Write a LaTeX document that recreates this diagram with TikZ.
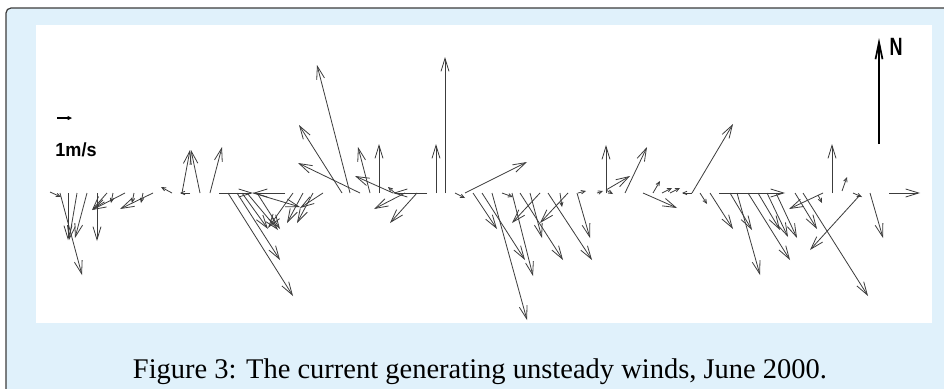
\documentclass[tikz,border=0pt]{standalone}
\usepackage{fontspec}
\setmainfont{Liberation Serif}
\newfontfamily\plotfont{Liberation Sans}
\usetikzlibrary{arrows.meta}
\definecolor{panelblue}{RGB}{224,241,251}
\definecolor{framegray}{RGB}{60,60,60}
\definecolor{stickgray}{RGB}{60,60,60}
\begin{document}
\begin{tikzpicture}[x=1pt,y=-1pt,
  stick/.style={draw=stickgray, line width=0.8pt, -{Straight Barb[length=13pt,width=8pt]}},
  ministick/.style={draw=stickgray, line width=0.8pt, -{Straight Barb[length=4pt,width=3.5pt]}},
  bigarrow/.style={draw=black, line width=1.7pt, -{Straight Barb[length=17pt,width=7pt]}},
  scalearrow/.style={draw=black, line width=1.2pt, -{Straight Barb[length=3pt,width=3pt]}},
  labeltext/.style={inner sep=0pt}]
\useasboundingbox (0,0) rectangle (944,388);
\fill[white] (0,0) rectangle (944,388);
\draw[rounded corners=5pt, fill=panelblue, draw=framegray, line width=1.2pt] (6,8) rectangle (980,430);
\fill[white] (36,25) rectangle (932,323);
% long sticks
\foreach \a/\b/\c/\d in {
 60/193/82/275, 68/193/68/240, 77/193/69/240, 87/193/75/238, 97/193/97/241,
 107/193/92/210, 125/193/92/210, 153/193/120/209,
 182/193/190/150, 200/193/191/150, 210/193/222/147,
 219/193/253/193, 285/193/253/193,
 228/193/293/296, 237/193/280/260, 242/193/268/229, 247/193/278/230, 257/193/280/229,
 253/193/300/207, 293/193/268/228, 303/193/287/223, 313/193/297/223, 323/193/300/208,
 350/193/317/65, 342/193/299/125, 360/193/298/163, 370/193/358/147, 379/193/379/144,
 393/193/355/176, 427/193/393/193, 405/193/374/209, 417/193/390/223,
 436/193/436/144, 445/193/445/57, 465/193/527/162,
 473/193/497/229, 482/193/525/260, 492/193/527/320, 512/193/533/276, 520/193/563/260,
 530/193/542/238, 540/193/512/223, 548/193/592/260, 568/193/540/223, 577/193/590/238,
 606/193/606/145, 606/190/630/176, 625/193/647/147,
 643/193/677/208, 692/193/733/124, 710/193/733/229, 719/193/785/193,
 730/193/752/230, 737/193/760/275, 748/193/790/260, 758/193/780/230, 767/193/788/237,
 776/193/797/238, 795/193/817/229, 803/193/868/296, 823/193/789/209,
 832/193/832/144, 860/195/810/250, 870/193/883/238, 889/193/920/193}
 \draw[stick] (\a,\b) -- (\c,\d);
% short sticks
\foreach \a/\b/\c/\d in {
 50/192/61/197, 113/193/111/203, 134/193/132/203, 143/193/141/203,
 172/193/161/187, 190/193/180/193, 395/193/388/187, 455/193/465/198,
 502/193/513/197, 560/193/562/207, 578/193/586/191, 597/193/603/191, 606/190/613/194,
 653/193/660/181, 662/193/672/188, 670/193/680/188, 692/193/682/193, 700/193/707/204,
 818/195/822/203, 842/191/847/177, 853/193/862/197}
 \draw[ministick] (\a,\b) -- (\c,\d);
% scale
\coordinate (s0) at (57,118);
\coordinate (s1) at (72,118);
\draw[scalearrow] (s0) -- (s1);
\node[labeltext, font=\plotfont\bfseries\fontsize{19}{19}\selectfont, xscale=0.95] (scalelabel) at (76,150) {1m/s};
% north arrow
\coordinate (n0) at (879,144);
\coordinate (n1) at (879,38);
\draw[bigarrow] (n0) -- (n1);
\node[labeltext, font=\plotfont\bfseries\fontsize{25}{25}\selectfont, xscale=0.72] (north) at (896,47) {N};
% caption
\node[inner sep=0pt, anchor=base, font=\fontsize{28.5}{28.5}\selectfont] (caption) at (480,378) {Figure 3: The current generating unsteady winds, June 2000.};
\end{tikzpicture}
\end{document}
